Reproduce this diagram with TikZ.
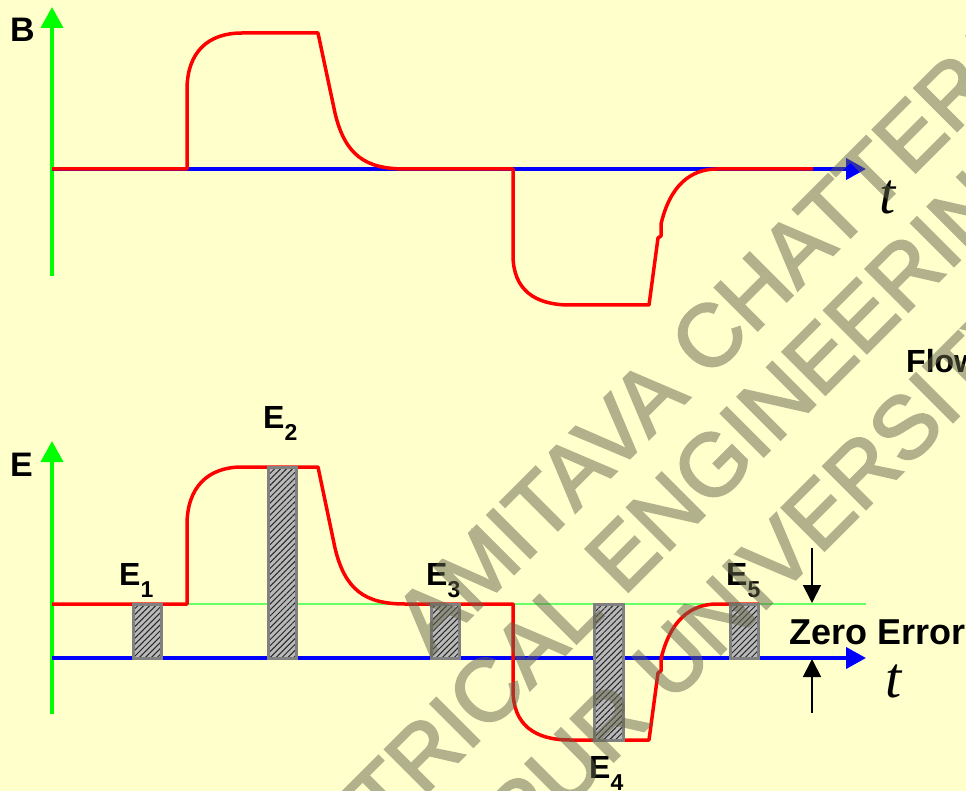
\documentclass[tikz,border=0pt]{standalone}
\usepackage{fontspec}
\setmainfont{Liberation Sans}
\newfontfamily\tfont{Liberation Serif}
\newfontfamily\wmfont{Liberation Sans}[FakeBold=2.5]
\usetikzlibrary{arrows.meta,patterns.meta}
\definecolor{bgc}{RGB}{255,255,204}
\definecolor{wmc}{RGB}{100,100,75}
\definecolor{zgreen}{RGB}{102,255,102}
\newcommand{\Esub}[1]{E\raisebox{-12pt}{\fontsize{23}{24}\selectfont #1}}
\tikzset{
  gaxis/.style={draw={rgb,255:red,0;green,255;blue,0}, line width=4pt, -{Triangle[length=21pt,width=22pt]}},
  baxis/.style={draw=blue, line width=4pt, -{Triangle[length=20pt,width=21pt]}},
  redc/.style={draw=red, line width=3.5pt, line join=round},
  zline/.style={draw=zgreen, line width=1.6pt},
  bar/.style={draw={rgb,255:red,128;green,128;blue,128}, line width=3pt,
     preaction={fill={rgb,255:red,185;green,185;blue,185}},
     pattern={Lines[angle=45,distance=4.2pt,line width=1pt]}, pattern color=black!85},
  lab/.style={font=\bfseries\fontsize{32}{34}\selectfont, inner sep=0pt, anchor=base west},
  axlab/.style={font=\bfseries\fontsize{34}{36}\selectfont, inner sep=0pt, anchor=base west},
  tlab/.style={font=\tfont\itshape\fontsize{58}{60}\selectfont, inner sep=0pt, anchor=base west},
  zarr/.style={draw=black, line width=1.8pt, -{Triangle[length=18pt,width=18pt]}},
  wm/.style={font=\wmfont\fontsize{88}{92}\selectfont, text=wmc, inner sep=0pt, anchor=base west, rotate=45}
}
\begin{document}
\begin{tikzpicture}[x=1pt,y=-1pt]
\useasboundingbox (0,0) rectangle (966,791);
\clip (0,0) rectangle (966,791);
\fill[bgc] (0,0) rectangle (966,791);

% ---------- top plot (B) ----------
\coordinate (Bbot) at (52,276);
\coordinate (Btop) at (52,7);
\coordinate (Bo) at (52,169);
\coordinate (Bend) at (866,169);
\draw[gaxis] (Bbot) -- (Btop);
\draw[baxis] (Bo) -- (Bend);
\draw[redc] (Bo) -- (187,169) -- (187,90)
  .. controls (187,52) and (208,33) .. (242,33) -- (318,33) -- (335,113)
  .. controls (345,155) and (365,169) .. (405,169) -- (513,169) -- (513,255)
  .. controls (513,290) and (535,305) .. (570,305) -- (649,305) -- (658,238) -- (661,236) -- (661,224)
  .. controls (670,186) and (690,169) .. (717,169) -- (813,169);
\node[axlab] (Blab) at (10,42) {B};
\node[tlab] (tB) at (879,214) {t};

% ---------- bottom plot (E) ----------
\coordinate (Ebot) at (52,714);
\coordinate (Etop) at (52,441);
\coordinate (Eo) at (52,658);
\coordinate (Eend) at (866,658);
\coordinate (Zs) at (52,604);
\coordinate (Ze) at (866,604);
\draw[gaxis] (Ebot) -- (Etop);
\draw[zline] (Zs) -- (Ze);
\draw[baxis] (Eo) -- (Eend);
\draw[redc] (Zs) -- (187,604) -- (187,525)
  .. controls (187,487) and (208,467) .. (242,467) -- (318,467) -- (335,548)
  .. controls (345,590) and (365,604) .. (405,604) -- (513,604) -- (513,690)
  .. controls (513,725) and (535,740) .. (570,740) -- (649,740) -- (658,673) -- (661,671) -- (661,659)
  .. controls (670,621) and (690,604) .. (717,604) -- (759,604);

% error bars
\draw[bar] (133,604) rectangle (161,658);
\draw[bar] (268,467) rectangle (296,658);
\draw[bar] (431,604) rectangle (459,658);
\draw[bar] (594,604) rectangle (623,740);
\draw[bar] (730,604) rectangle (758,658);

\node[axlab] (Elab) at (10,476) {E};
\node[lab] (E1) at (119,585) {\Esub{1}};
\node[lab] (E2) at (263,428) {\Esub{2}};
\node[lab] (E3) at (426,585) {\Esub{3}};
\node[lab] (E4) at (589,778) {\Esub{4}};
\node[lab] (E5) at (726,585) {\Esub{5}};
\node[tlab] (tE) at (885,697) {t};

% zero error arrows
\coordinate (zd0) at (812,548);
\coordinate (zd1) at (812,603);
\coordinate (zu0) at (812,713);
\coordinate (zu1) at (812,659);
\draw[zarr] (zd0) -- (zd1);
\draw[zarr] (zu0) -- (zu1);
\node[lab, font=\bfseries\fontsize{36}{38}\selectfont] (zero) at (789,644) {Zero Error};
\node[lab] (flow) at (906,373) {Flow};

% ---------- watermark ----------
\begin{scope}[transparency group, opacity=0.5]
\node[wm] (wm1) at (431,657) {AMITAVA CHATTERJEE};
\node[wm] (wm2) at (222,998) {ELECTRICAL ENGINEERING};
\node[wm] (wm3) at (326,1049) {JADAVPUR UNIVERSITY};
\end{scope}
\end{tikzpicture}
\end{document}
